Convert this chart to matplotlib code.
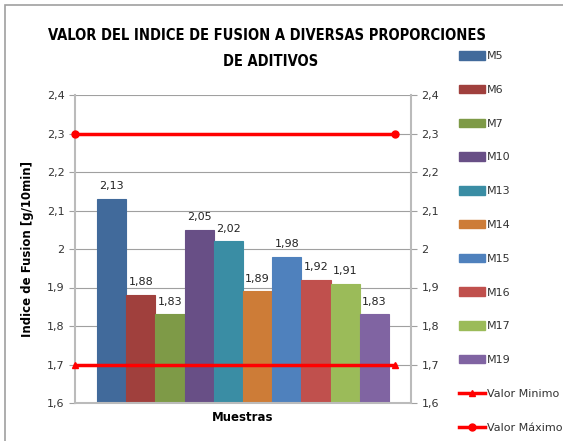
import numpy as np
import matplotlib
matplotlib.use("Agg")
import matplotlib.pyplot as plt
from matplotlib.lines import Line2D
from matplotlib.patches import Patch, Rectangle

# data
muestras = ["M5", "M6", "M7", "M10", "M13", "M14", "M15", "M16", "M17", "M19"]
valores = [2.13, 1.88, 1.83, 2.05, 2.02, 1.89, 1.98, 1.92, 1.91, 1.83]
colores = ["#416A9B", "#A0403D", "#7E9A47", "#684F86", "#3A8DA4",
           "#CD7C37", "#4F81BD", "#C0504D", "#9BBB59", "#8064A2"]
valor_minimo = 1.70
valor_maximo = 2.30
yticks = [1.6, 1.7, 1.8, 1.9, 2.0, 2.1, 2.2, 2.3, 2.4]

plt.rcParams['font.family'] = ['DejaVu Sans']

def fmt(v):
    s = ("%.2f" % v).rstrip("0").rstrip(".")
    return s.replace(".", ",")

fig = plt.figure(figsize=(5.63, 4.41), dpi=100)
fig.patches.append(Rectangle((0.009, -0.02), 1.1, 1.008, transform=fig.transFigure,
                             fill=False, edgecolor="#A0A0A0", lw=1.2))

ax = fig.add_axes([75/563, 1 - 403/441, (411-75)/563, (403-95)/441])

x = np.arange(len(muestras))
ax.bar(x, valores, width=1.0, color=colores, edgecolor=colores, linewidth=0.8)
for xi, v in zip(x, valores):
    ax.text(xi, v + 0.02, fmt(v), ha="center", va="bottom", fontsize=8,
            color="#222222")

xl = np.array([-1.25, 9.7])
ax.plot(xl, [valor_minimo]*2, color="#FF0000", lw=2.5, marker="^", ms=5, clip_on=False, zorder=5)
ax.plot(xl, [valor_maximo]*2, color="#FF0000", lw=2.5, marker="o", ms=5, clip_on=False, zorder=5)

ax.set_xlim(-1.25, 10.25)
ax.set_ylim(1.6, 2.4)
ax.set_yticks(yticks)
ax.set_yticklabels([fmt(t) for t in yticks])
ax.tick_params(axis="y", labelsize=8, colors="#333333", length=4, color="#A0A0A0",
               right=True, labelright=True)
ax.set_xticks([])
ax.yaxis.grid(True, color="#A0A0A0", lw=0.8)
ax.set_axisbelow(True)
ax.spines["top"].set_visible(False)
for side in ["left", "right", "bottom"]:
    ax.spines[side].set_color("#BBBBBB")
    ax.spines[side].set_linewidth(1.5)

ax.set_ylabel("Indice de Fusion [g/10min]", fontsize=8.5, fontweight="bold", labelpad=9)
ax.set_xlabel("Muestras", fontsize=8.5, fontweight="bold", labelpad=6)

fig.text(0.474, 1 - 35/441, "VALOR DEL INDICE DE FUSION A DIVERSAS PROPORCIONES",
         ha="center", va="center", fontsize=10.5, fontweight="bold", fontstretch="condensed")
fig.text(0.48, 1 - 62/441, "DE ADITIVOS", ha="center", va="center",
         fontsize=10.5, fontweight="bold", fontstretch="condensed")

handles = [Patch(facecolor=c, edgecolor=c) for c in colores]
handles.append(Line2D([0], [0], color="#FF0000", lw=2.5, marker="^", ms=5))
handles.append(Line2D([0], [0], color="#FF0000", lw=2.5, marker="o", ms=5))
labels = muestras + ["Valor Minimo", "Valor Máximo"]
leg = fig.legend(handles, labels, loc="upper left", bbox_to_anchor=(459/563, 1 - 51/441),
                 frameon=False, fontsize=8, labelspacing=2.13, handlelength=2.3,
                 handleheight=0.8, handletextpad=0.2, borderaxespad=0, borderpad=0)
for t in leg.get_texts():
    t.set_color("#333333")

plt.savefig("out.png", dpi=100)
plt.close("all")
